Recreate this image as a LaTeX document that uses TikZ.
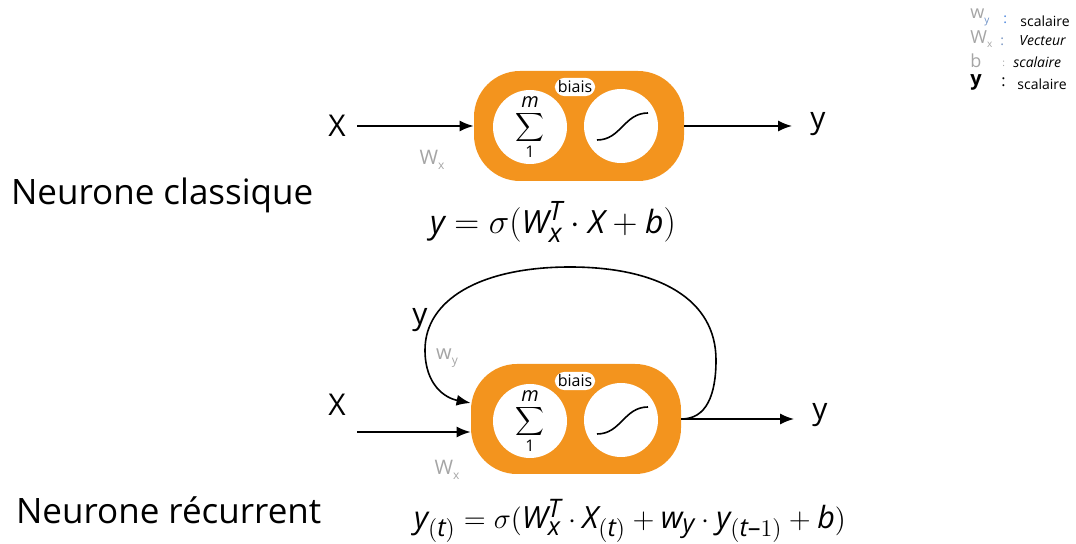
\documentclass[tikz,border=0pt]{standalone}
\usepackage{fontspec}
\setmainfont{Open Sans}
\setsansfont{Open Sans}
\usepackage[italic]{mathastext}
\usetikzlibrary{arrows.meta}

\definecolor{neurorange}{RGB}{243,148,30}
\definecolor{poidsgris}{RGB}{165,165,165}
\definecolor{deuxpts}{RGB}{70,130,220}

\begin{document}
\begin{tikzpicture}[x=0.5pt, y=-0.5pt,
    neurone/.style={fill=neurorange, rounded corners=23pt, minimum width=105pt, minimum height=55pt, inner sep=0pt},
    rond/.style={circle, fill=white, minimum size=37pt, inner sep=0pt},
    bulle/.style={fill=white, rounded corners=5pt, inner sep=1.5pt, font=\fontsize{8}{9}\selectfont},
    fleche/.style={-{Latex[length=7pt,width=5.5pt]}, line width=0.8pt},
    grand/.style={inner sep=0pt, font=\fontsize{15}{17}\selectfont},
    poids/.style={text=poidsgris, font=\fontsize{10}{11}\selectfont},
    formule/.style={font=\fontsize{16}{18}\selectfont},
    legende/.style={anchor=west, inner sep=0pt, font=\fontsize{7}{8}\selectfont}]

    \useasboundingbox (0,0) rectangle (1076,544);

    % 上: 古典的ニューロン
    \node[neurone] (N1) at (579,126) {};
    \node[rond] (S1) at (530,127) {\fontsize{12}{14}\selectfont$\displaystyle\sum_{\mbox{\fontsize{8}{9}\selectfont 1}}^{m}$};
    \node[rond] (A1) at (621,126) {};
    \draw[line width=0.8pt] ([shift={(-24,14)}]A1.center) .. controls +(24,0) and +(-24,0) .. ([shift={(27,-13)}]A1.center);
    \node[bulle] (B1) at (575,87) {biais};

    \node[grand] (X1) at (337,126) {X};
    \node[grand] (Y1) at (818,124) {y};
    \node[poids] (W1) at (432,160) {W\raisebox{-0.5ex}{\fontsize{6}{6}\selectfont x}};

    \draw[fleche, shorten <=5.5pt] (X1) -- (N1);
    \draw[fleche, shorten >=9pt] (N1) -- (N1 -| Y1.west);

    \node[formule] (F1) at (553,222) {$y = \sigma(W_x^T \cdot X + b)$};
    \node[anchor=west, font=\fontsize{17.5}{20}\selectfont] (T1) at (4,195) {Neurone classique};

    % 下: 再帰ニューロン
    \node[neurone] (N2) at (576,419) {};
    \node[rond] (S2) at (530,421) {\fontsize{12}{14}\selectfont$\displaystyle\sum_{\mbox{\fontsize{8}{9}\selectfont 1}}^{m}$};
    \node[rond] (A2) at (621,420) {};
    \draw[line width=0.8pt] ([shift={(-24,14)}]A2.center) .. controls +(24,0) and +(-24,0) .. ([shift={(27,-13)}]A2.center);
    \node[bulle] (B2) at (575,381) {biais};

    \node[grand] (X2) at (337,405) {X};
    \node[grand] (Y2) at (820,415) {y};
    \node[grand] (Y3) at (420,320) {y};
    \node[poids] (W2) at (447,470) {W\raisebox{-0.5ex}{\fontsize{6}{6}\selectfont x}};
    \node[poids] (V2) at (447,358) {w\raisebox{-0.5ex}{\fontsize{6}{6}\selectfont y}};

    \coordinate (E2) at (357,432);
    \draw[fleche] (E2) -- ([yshift=-6.5pt]N2.west);
    \draw[fleche, shorten >=9pt] (N2) -- (N2 -| Y2.west);
    \draw[fleche] (N2.east) .. controls +(25,0) and (716,395) .. (716,360)
        .. controls (716,300) and (660,267) .. (570,267)
        .. controls (480,267) and (425,300) .. (425,350)
        .. controls (425,385) and (445,398) .. ([yshift=8pt]N2.west);

    \node[formule, font=\fontsize{15.3}{18}\selectfont] (F2) at (630,521) {$y_{(t)} = \sigma(W_x^T \cdot X_{(t)} + w_y \cdot y_{(t-1)} + b)$};
    \node[anchor=west, font=\fontsize{17.5}{20}\selectfont] (T2) at (9,510) {Neurone récurrent};

    % 凡例
    \node[legende, text=poidsgris, font=\fontsize{9}{10}\selectfont] (L1) at (970,17) {w\raisebox{-0.5ex}{\fontsize{5}{5}\selectfont\color{deuxpts!60!poidsgris}y}};
    \node[legende, text=deuxpts] (C1) at (1003,20) {:};
    \node[legende] (M1) at (1020,21) {scalaire};
    \node[legende, text=poidsgris, font=\fontsize{9}{10}\selectfont] (L2) at (970,39) {W\raisebox{-0.5ex}{\fontsize{5}{5}\selectfont x}};
    \node[legende, text=deuxpts!50!poidsgris] (C2) at (1000,42) {:};
    \node[legende] (M2) at (1019,41) {\itshape Vecteur};
    \node[legende, text=poidsgris, font=\fontsize{9}{10}\selectfont] (L3) at (970,61) {b};
    \node[legende, text=poidsgris, font=\fontsize{5}{5}\selectfont] (C3) at (1002,64) {:};
    \node[legende] (M3) at (1013,62) {\itshape scalaire};
    \node[legende, font=\fontsize{10}{11}\selectfont\bfseries] (L4) at (970,82) {y};
    \node[legende, font=\fontsize{8}{9}\selectfont] (C4) at (1001,82) {:};
    \node[legende] (M4) at (1017,84) {scalaire};

\end{tikzpicture}
\end{document}
